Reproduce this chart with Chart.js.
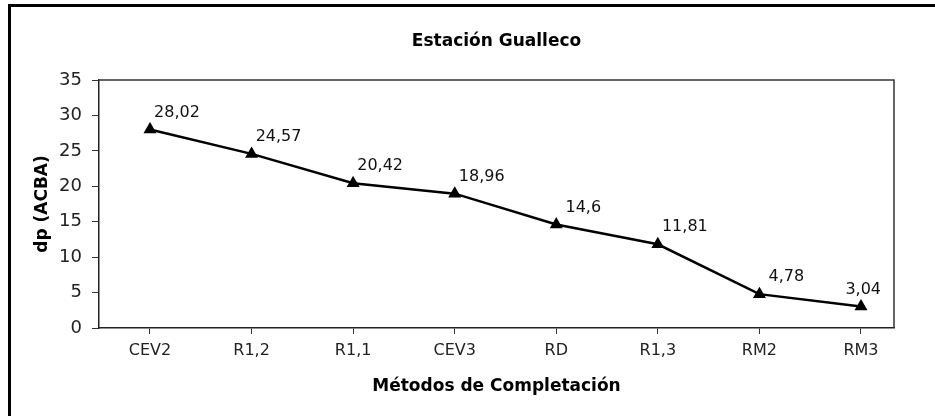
<!DOCTYPE html>
<html>
<head>
<meta charset="utf-8">
<script src="https://cdn.jsdelivr.net/npm/chart.js@4/dist/chart.umd.min.js"></script>
<style>
  html, body { margin: 0; padding: 0; background: #fff; overflow: hidden; }
  #wrap { width: 935px; height: 416px; position: relative; }
</style>
</head>
<body>
<div id="wrap"><canvas id="c" width="935" height="416"></canvas></div>
<script>
const chartTitle = 'Estación Gualleco';
const xTitle = 'Métodos de Completación';
const yTitle = 'dp (ACBA)';
const categories = ['CEV2', 'R1,2', 'R1,1', 'CEV3', 'RD', 'R1,3', 'RM2', 'RM3'];
const values = [28.02, 24.57, 20.42, 18.96, 14.6, 11.81, 4.78, 3.04];
const yTicks = [0, 5, 10, 15, 20, 25, 30, 35];

const FONT = 'DejaVu Sans';

const framePlugin = {
  id: 'frame',
  beforeDraw(chart) {
    const ctx = chart.ctx;
    ctx.save();
    ctx.fillStyle = '#fff';
    ctx.fillRect(0, 0, chart.width, chart.height);
    ctx.fillStyle = '#000';
    ctx.fillRect(8, 4, chart.width - 8, 3);
    ctx.fillRect(8, 4, 3, chart.height - 4);
    ctx.restore();
  },
  beforeDatasetsDraw(chart) {
    const { ctx, chartArea: a } = chart;
    ctx.save();
    ctx.strokeStyle = '#333';
    ctx.lineWidth = 1.5;
    ctx.beginPath();
    ctx.moveTo(a.left, a.top);
    ctx.lineTo(a.right, a.top);
    ctx.lineTo(a.right, a.bottom);
    ctx.stroke();
    ctx.restore();
  }
};

const labelPlugin = {
  id: 'valueLabels',
  afterDatasetsDraw(chart) {
    const { ctx, chartArea: a } = chart;
    const meta = chart.getDatasetMeta(0);
    ctx.save();
    ctx.font = '16px "' + FONT + '"';
    ctx.fillStyle = '#111';
    ctx.textAlign = 'center';
    ctx.textBaseline = 'middle';
    meta.data.forEach((pt, i) => {
      const txt = String(values[i]).replace('.', ',');
      const w = ctx.measureText(txt).width;
      let x = pt.x + 27;
      x = Math.min(x, a.right - w / 2 - 13);
      ctx.fillText(txt, x, pt.y - 17);
    });
    ctx.restore();
  }
};

new Chart(document.getElementById('c'), {
  type: 'line',
  data: {
    datasets: [{
      data: values.map((v, i) => ({ x: i, y: v })),
      borderColor: '#000',
      backgroundColor: '#000',
      borderWidth: 2.5,
      pointStyle: 'triangle',
      pointRadius: 5,
      pointBackgroundColor: '#000',
      pointBorderColor: '#000',
      tension: 0
    }]
  },
  options: {
    responsive: false,
    animation: false,
    devicePixelRatio: 1,
    layout: { padding: { top: 0, left: 0, right: 41, bottom: 0 } },
    plugins: {
      legend: { display: false },
      tooltip: { enabled: false },
      title: {
        display: true,
        text: chartTitle,
        fullSize: false,
        color: '#000',
        font: { family: FONT, size: 17, weight: 'bold' },
        padding: { top: 31, bottom: 28.6 }
      }
    },
    scales: {
      x: {
        type: 'linear',
        min: -0.502,
        max: 7.325,
        afterFit: s => { s.height = 88; },
        afterBuildTicks: s => { s.ticks = categories.map((c, i) => ({ value: i })); },
        grid: { display: true, drawOnChartArea: false, drawTicks: true, tickLength: 6, color: '#333', lineWidth: 1 },
        border: { display: true, color: '#222', width: 1.5 },
        ticks: {
          autoSkip: false, maxRotation: 0, padding: 7,
          color: '#222',
          font: { family: FONT, size: 16 },
          callback: v => categories[v]
        },
        title: {
          display: true, text: xTitle, color: '#000',
          font: { family: FONT, size: 17, weight: 'bold' },
          padding: { top: 0, bottom: 19 }
        }
      },
      y: {
        min: 0,
        max: 35,
        afterFit: s => { s.width = 99; },
        afterBuildTicks: s => { s.ticks = yTicks.map(v => ({ value: v })); },
        grid: { display: true, drawOnChartArea: false, drawTicks: true, tickLength: 7, color: '#333', lineWidth: 1 },
        border: { display: true, color: '#222', width: 1.5 },
        ticks: {
          padding: 10,
          color: '#222',
          font: { family: FONT, size: 18 }
        },
        title: {
          display: true, text: yTitle, color: '#000',
          font: { family: FONT, size: 17, weight: 'bold' },
          padding: { top: 32, bottom: 0 }
        }
      }
    }
  },
  plugins: [framePlugin, labelPlugin]
});
</script>
</body>
</html>
